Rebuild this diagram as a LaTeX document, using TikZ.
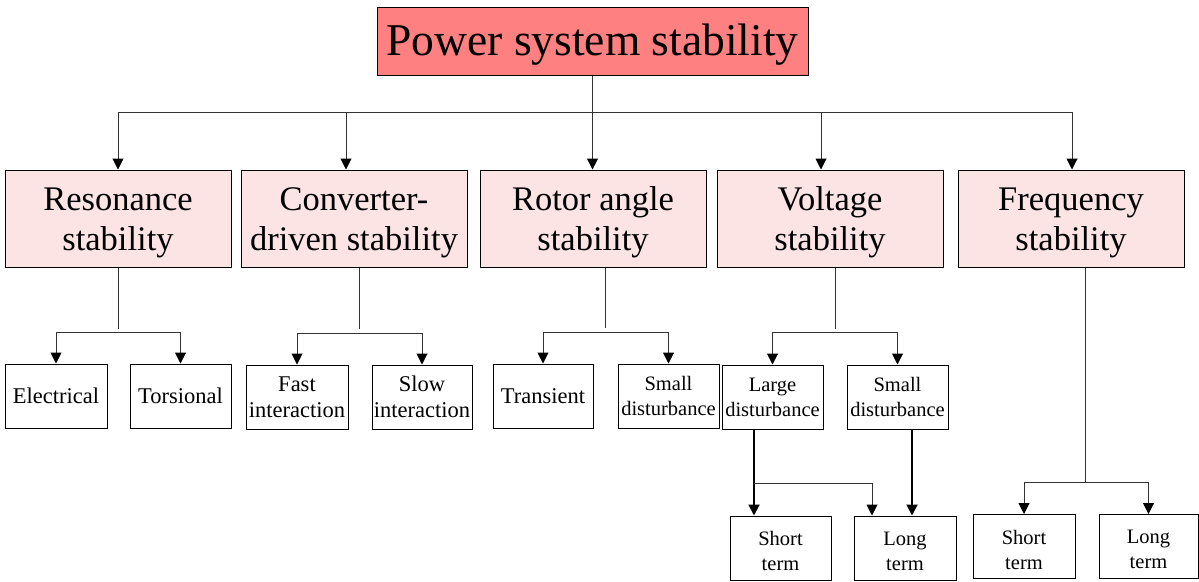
\documentclass[tikz,border=0pt]{standalone}
\usepackage{fontspec}
\setmainfont{Liberation Serif}
\usetikzlibrary{arrows.meta}
\definecolor{topred}{HTML}{FF8080}
\definecolor{midpink}{HTML}{FDE4E4}
\tikzset{
  box/.style={draw=black, line width=1pt, inner sep=0pt, align=center},
  topbox/.style={box, fill=topred, minimum width=431pt, minimum height=68pt},
  toptext/.style={inner sep=0pt, font=\fontsize{45.5}{52}\selectfont},
  midbox/.style={box, fill=midpink, minimum width=226pt, minimum height=97pt},
  midtext/.style={inner sep=0pt, align=center, font=\fontsize{34.5}{40}\selectfont},
  leafbox/.style={box, fill=white, minimum height=64pt, font=\fontsize{20.5}{25}\selectfont},
  bigleaf/.style={leafbox, font=\fontsize{22.5}{26}\selectfont},
  conn/.style={draw=black!80, line width=1pt},
  arr/.style={conn, -{Triangle[width=11pt,length=11pt,color=black]}},
  thickarr/.style={draw=black, line width=2pt, -{Triangle[width=11pt,length=11pt]}}
}
\begin{document}
\begin{tikzpicture}[x=1pt,y=-1pt]
\useasboundingbox (0,0) rectangle (1199,581);
% top
\node[topbox] (top) at (592.5,41) {};
\node[toptext] (topT) at ([yshift=-4pt]top.center) {Power system stability};
% level 2
\node[midbox] (res) at (118,218.5) {};
\node[midbox] (conv) at (354,218.5) {};
\node[midbox] (rot) at (593,218.5) {};
\node[midbox] (volt) at (830,218.5) {};
\node[midbox] (freq) at (1071,218.5) {};
\node[midtext] (resT) at ([yshift=-4pt]res.center) {Resonance\\stability};
\node[midtext] (convT) at ([yshift=-4pt]conv.center) {Converter-\\driven stability};
\node[midtext] (rotT) at ([yshift=-4pt]rot.center) {Rotor angle\\stability};
\node[midtext] (voltT) at ([yshift=-4pt]volt.center) {Voltage\\stability};
\node[midtext] (freqT) at ([yshift=-4pt]freq.center) {Frequency\\stability};
% level 3
\node[bigleaf, minimum width=102pt] (elec) at (56,396) {Electrical};
\node[bigleaf, minimum width=101pt] (tors) at (180.5,396) {Torsional};
\node[bigleaf, minimum width=102pt] (fast) at (297,397) {Fast\\interaction};
\node[bigleaf, minimum width=100pt] (slow) at (422,397) {Slow\\interaction};
\node[bigleaf, minimum width=100pt] (trans) at (543,396) {Transient};
\node[leafbox, minimum width=101pt] (smallr) at (668.5,396) {Small\\disturbance};
\node[leafbox, minimum width=101pt] (large) at (772.5,397) {Large\\disturbance};
\node[leafbox, minimum width=101pt] (smallv) at (897.5,397) {Small\\disturbance};
% level 4
\node[leafbox, minimum width=101pt] (shortv) at (780.5,548) {};
\node[leafbox, minimum width=102pt] (longv) at (905,548) {};
\node[leafbox, minimum width=102pt] (shortf) at (1024,546.5) {};
\node[leafbox, minimum width=99pt] (longf) at (1148.5,546.5) {};
\node[leafbox, draw=none, fill=none, minimum height=0pt] (shortvT) at ([yshift=-3pt]shortv.center) {Short\\term};
\node[leafbox, draw=none, fill=none, minimum height=0pt] (longvT) at ([yshift=-3pt]longv.center) {Long\\term};
\node[leafbox, draw=none, fill=none, minimum height=0pt] (shortfT) at ([yshift=-3pt]shortf.center) {Short\\term};
\node[leafbox, draw=none, fill=none, minimum height=0pt] (longfT) at ([yshift=-3pt]longf.center) {Long\\term};

% top-level bus
\coordinate (bus) at (0,112);
\draw[conn] (res.north |- bus) -- (1072,112);
\draw[arr] (top.south) -- (top.south |- rot.north);
\draw[arr] (res.north |- bus) -- (res.north);
\coordinate (aconv) at (346,112);
\draw[arr] (aconv) -- (aconv |- conv.north);
\coordinate (avolt) at (821,112);
\draw[arr] (avolt) -- (avolt |- volt.north);
\coordinate (afreq) at (1072,112);
\draw[arr] (afreq) -- (afreq |- freq.north);

% resonance children
\coordinate (sres) at (118,329);
\draw[conn] (res.south -| sres) -- (sres);
\draw[conn] (elec.north |- 0,332) -- (tors.north |- 0,332);
\draw[arr] (elec.north |- 0,332) -- (elec.north);
\draw[arr] (tors.north |- 0,332) -- (tors.north);
% converter children
\coordinate (sconv) at (359,329);
\draw[conn] (conv.south -| sconv) -- (sconv);
\draw[conn] (fast.north |- 0,333) -- (slow.north |- 0,333);
\draw[arr] (fast.north |- 0,333) -- (fast.north);
\draw[arr] (slow.north |- 0,333) -- (slow.north);
% rotor children
\coordinate (srot) at (605,328);
\draw[conn] (rot.south -| srot) -- (srot);
\draw[conn] (trans.north |- 0,332) -- (smallr.north |- 0,332);
\draw[arr] (trans.north |- 0,332) -- (trans.north);
\draw[arr] (smallr.north |- 0,332) -- (smallr.north);
% voltage children
\coordinate (svolt) at (835,329);
\draw[conn] (volt.south -| svolt) -- (svolt);
\draw[conn] (large.north |- 0,332) -- (smallv.north |- 0,332);
\draw[arr] (large.north |- 0,332) -- (large.north);
\draw[arr] (smallv.north |- 0,332) -- (smallv.north);
% frequency children
\coordinate (sfreq) at (1085,482);
\draw[conn] (freq.south -| sfreq) -- (sfreq);
\draw[conn] (shortf.north |- 0,482) -- (longf.north |- 0,482);
\draw[arr] (shortf.north |- 0,482) -- (shortf.north);
\draw[arr] (longf.north |- 0,482) -- (longf.north);
% voltage level 3 -> 4
\coordinate (vl) at (754,483);
\coordinate (vm) at (872,483);
\coordinate (vr) at (912,0);
\draw[thickarr] (large.south -| vl) -- (shortv.north -| vl);
\draw[conn] (vl) -- (vm);
\draw[arr] (vm) -- (longv.north -| vm);
\draw[thickarr] (smallv.south -| vr) -- (longv.north -| vr);
\end{tikzpicture}
\end{document}
